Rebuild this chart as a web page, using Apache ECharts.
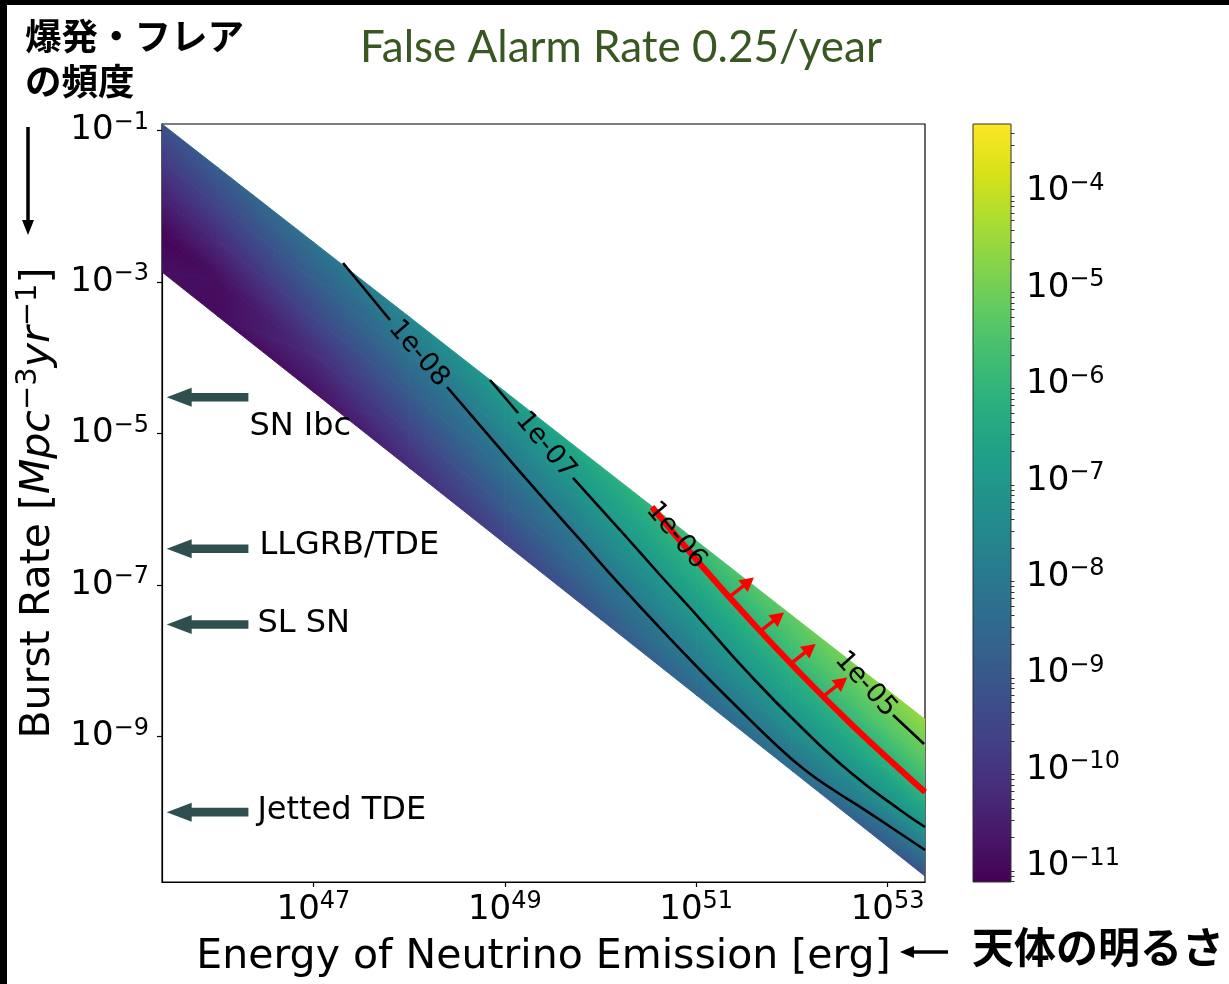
<!DOCTYPE html>
<html>
<head>
<meta charset="utf-8">
<script src="https://cdn.jsdelivr.net/npm/echarts@6.0.0/dist/echarts.min.js"></script>
<style>
  html, body { margin: 0; padding: 0; background: #fff; }
  #chart { width: 1229px; height: 984px; }
</style>
</head>
<body>
<div id="chart"></div>
<script>
// ---------------------------------------------------------------
// Data (energies and rates are stored as log10 values)
// ---------------------------------------------------------------

// axis extents: log10 E [erg] and log10 burst rate [Mpc^-3 yr^-1]
const xExtent = [45.417, 53.391];
const yExtent = [-10.922, -0.915];
const xTickExp = [47, 49, 51, 53];
const yTickExp = [-9, -7, -5, -3, -1];

// colour scale limits (linear values)
const colorLimits = [6.9e-12, 5.0e-4];
const colorTickExp = [-11, -10, -9, -8, -7, -6, -5, -4];

// mesh columns along the energy axis (log10 E)
const meshLogE = [45.417, 46, 47, 48, 49, 50, 51, 52, 53, 53.391];
// lower / upper edge of the allowed band at each column (log10 rate)
const bandLowLogR  = [-2.87, -3.453, -4.453, -5.453, -6.453, -7.453, -8.453, -9.453, -10.453, -10.845];
const bandHighLogR = [-0.915, -1.49, -2.475, -3.46, -4.446, -5.432, -6.417, -7.403, -8.388, -8.774];
// fractional position across the band (0 = lower edge, 1 = upper edge)
const bandFrac = [0, 0.25, 0.5, 0.75, 1];
// log10 of the mapped quantity at each mesh node, one row per column
const heatLog = [
  [-10.85, -11.10, -10.50, -9.85, -9.24],
  [-10.95, -10.90, -10.25, -9.55, -8.85],
  [-10.85, -10.20, -9.52, -8.86, -8.20],
  [-10.25, -9.58, -8.90, -8.23, -7.55],
  [-9.61, -8.93, -8.25, -7.58, -6.90],
  [-9.04, -8.34, -7.64, -6.94, -6.30],
  [-8.60, -7.81, -7.07, -6.38, -5.75],
  [-8.40, -7.42, -6.60, -5.83, -5.23],
  [-9.00, -7.42, -6.30, -5.43, -4.75],
  [-9.20, -7.43, -6.18, -5.31, -4.57]
];

// contour lines [log10 E, log10 rate]; each level is split where its label sits
const contourNames = ['1e-08', '1e-07', '1e-06', '1e-05'];
const contour8Head = [[47.309, -2.750], [47.800, -3.503]];
const contour8Tail = [[48.396, -4.387], [48.897, -5.126], [49.399, -5.853], [49.806, -6.433],
                      [50.204, -7.001], [50.622, -7.569], [51.040, -8.123], [51.458, -8.651],
                      [51.824, -9.100], [52.137, -9.444], [52.451, -9.721], [52.764, -9.972],
                      [53.078, -10.236], [53.391, -10.500]];
const contour7Head = [[48.845, -4.295], [49.138, -4.730]];
const contour7Tail = [[49.712, -5.588], [50.204, -6.275], [50.622, -6.869], [51.040, -7.450],
                      [51.562, -8.189], [52.085, -8.863], [52.607, -9.470], [53.130, -9.972],
                      [53.391, -10.196]];
const contour6Head = [[50.538, -5.971]];
const contour6Tail = [[51.040, -6.724], [51.562, -7.463], [52.085, -8.163], [52.607, -8.823],
                      [53.130, -9.437], [53.391, -9.734]];
const contour5Head = [[52.482, -7.912]];
const contour5Tail = [[53.057, -8.717], [53.381, -9.100]];

// detection threshold curve (drawn in red) and the points its arrows start from
const thresholdCurve = [[50.538, -5.971], [51.040, -6.724], [51.562, -7.463], [52.085, -8.163],
                        [52.607, -8.823], [53.130, -9.437], [53.391, -9.734]];
const thresholdArrowBase = [[51.353, -7.152], [51.667, -7.614], [51.998, -8.030], [52.328, -8.472]];

// source classes and their burst rates [Mpc^-3 yr^-1]
const sourceNames = ['SN Ibc', 'LLGRB/TDE', 'SL SN', 'Jetted TDE'];
const sourceRate = [3e-5, 3e-7, 3e-8, 1e-10];
const sourceArrowTailLogE = 46.32;
const sourceArrowTipLogE = 45.466;

// ---------------------------------------------------------------
// Colour map (viridis)
// ---------------------------------------------------------------
const viridis = ['#440154', '#48186a', '#472d7b', '#424086', '#3b528b', '#33638d', '#2c728e',
  '#26828e', '#21918c', '#1fa088', '#28ae80', '#3fbc73', '#5ec962', '#84d44b', '#addc30',
  '#d8e219', '#fde725'];
const viridisRGB = viridis.map(h => [parseInt(h.slice(1, 3), 16), parseInt(h.slice(3, 5), 16), parseInt(h.slice(5, 7), 16)]);
const cMin = Math.log10(colorLimits[0]);
const cMax = Math.log10(colorLimits[1]);

function colorOf(logV) {
  let t = (logV - cMin) / (cMax - cMin);
  t = Math.max(0, Math.min(1, t));
  const x = t * (viridisRGB.length - 1);
  const i = Math.min(Math.floor(x), viridisRGB.length - 2);
  const f = x - i;
  const a = viridisRGB[i], b = viridisRGB[i + 1];
  return 'rgb(' + [0, 1, 2].map(k => Math.round(a[k] + (b[k] - a[k]) * f)).join(',') + ')';
}

// ---------------------------------------------------------------
// Band mesh: nodes and triangles
// ---------------------------------------------------------------
const nodes = meshLogE.map((e, i) => bandFrac.map((w, j) => [
  e,
  bandLowLogR[i] + w * (bandHighLogR[i] - bandLowLogR[i]),
  heatLog[i][j]
]));
const triangles = [];
for (let i = 0; i < meshLogE.length - 1; i++) {
  for (let j = 0; j < bandFrac.length - 1; j++) {
    const a = nodes[i][j], b = nodes[i + 1][j], c = nodes[i + 1][j + 1], d = nodes[i][j + 1];
    triangles.push([a, b, c]);
    triangles.push([a, c, d]);
  }
}
const triangleCenters = triangles.map(t => [(t[0][0] + t[1][0] + t[2][0]) / 3, (t[0][1] + t[1][1] + t[2][1]) / 3]);

// each triangle is shaded linearly between its corner values
function renderHeat(params, api) {
  const tri = triangles[params.dataIndex];
  const p = tri.map(n => api.coord([n[0], n[1]]));
  const v = tri.map(n => n[2]);
  const d1x = p[1][0] - p[0][0], d1y = p[1][1] - p[0][1];
  const d2x = p[2][0] - p[0][0], d2y = p[2][1] - p[0][1];
  const dv1 = v[1] - v[0], dv2 = v[2] - v[0];
  const det = d1x * d2y - d1y * d2x;
  const gx = (dv1 * d2y - dv2 * d1y) / det;
  const gy = (d1x * dv2 - d2x * dv1) / det;
  const g2 = gx * gx + gy * gy;
  const vmin = Math.min(v[0], v[1], v[2]);
  const vmax = Math.max(v[0], v[1], v[2]);
  let fill;
  if (!isFinite(g2) || g2 < 1e-14 || vmax - vmin < 1e-6) {
    fill = colorOf((vmin + vmax) / 2);
  } else {
    const k = v.indexOf(vmin);
    const s = (vmax - vmin) / g2;
    const x0 = p[k][0], y0 = p[k][1];
    const stops = [];
    for (let m = 0; m <= 10; m++) {
      stops.push({ offset: m / 10, color: colorOf(vmin + (m / 10) * (vmax - vmin)) });
    }
    fill = new echarts.graphic.LinearGradient(x0, y0, x0 + gx * s, y0 + gy * s, stops, true);
  }
  return {
    type: 'polygon',
    shape: { points: p },
    style: { fill: fill, stroke: fill, lineWidth: 0.9, lineJoin: 'round' },
    silent: true
  };
}

// ---------------------------------------------------------------
// Helpers for text and marks
// ---------------------------------------------------------------
const FONT = 'DejaVu Sans';
const minus = n => (n < 0 ? '\u2212' + Math.abs(n) : String(n));
const powerLabel = v => '{b|10}{s|' + minus(Math.round(v)) + '}';
const powerRich = {
  b: { fontFamily: FONT, fontSize: 34, lineHeight: 40, color: '#000' },
  s: { fontFamily: FONT, fontSize: 24, lineHeight: 24, verticalAlign: 'top', color: '#000' }
};

const minorColorTicks = [];
for (let n = -12; n <= -4; n++) {
  for (let k = 2; k <= 9; k++) {
    const v = n + Math.log10(k);
    if (v > cMin && v < cMax) minorColorTicks.push(v);
  }
}

const contourSets = [
  [contour8Head, contour8Tail],
  [contour7Head, contour7Tail],
  [contour6Head, contour6Tail],
  [contour5Head, contour5Tail]
];

function renderContourLabel(params, api) {
  const set = contourSets[params.dataIndex];
  const a = api.coord(set[0][set[0].length - 1]);
  const b = api.coord(set[1][0]);
  const ang = Math.atan2(b[1] - a[1], b[0] - a[0]);
  return {
    type: 'text',
    x: (a[0] + b[0]) / 2,
    y: (a[1] + b[1]) / 2,
    rotation: -ang,
    style: {
      text: contourNames[params.dataIndex], fontFamily: FONT, fontSize: 27,
      fill: '#000', align: 'center', verticalAlign: 'middle'
    },
    silent: true
  };
}

function renderThresholdArrow(params, api) {
  const base = api.coord(thresholdArrowBase[params.dataIndex]);
  const vec = [24, -19];
  const len = Math.hypot(vec[0], vec[1]);
  const u = [vec[0] / len, vec[1] / len];
  const n = [-u[1], u[0]];
  const tip = [base[0] + vec[0], base[1] + vec[1]];
  const hb = [tip[0] - 14 * u[0], tip[1] - 14 * u[1]];
  return {
    type: 'group',
    silent: true,
    children: [
      { type: 'line', shape: { x1: base[0], y1: base[1], x2: hb[0] + u[0], y2: hb[1] + u[1] },
        style: { stroke: '#ff0000', lineWidth: 3.5 } },
      { type: 'polygon',
        shape: { points: [tip, [hb[0] + 7.5 * n[0], hb[1] + 7.5 * n[1]], [hb[0] - 7.5 * n[0], hb[1] - 7.5 * n[1]]] },
        style: { fill: '#ff0000' } }
    ]
  };
}

const sourceLabelShift = [[1, 29], [11, -3], [9, -1], [9, -1]];
function renderSource(params, api) {
  const i = params.dataIndex;
  const r = Math.log10(sourceRate[i]);
  const tail = api.coord([sourceArrowTailLogE, r]);
  const tip = api.coord([sourceArrowTipLogE, r]);
  const y = tip[1];
  const hb = tip[0] + 25;
  const hh = 9.5, sh = 4.3;
  return {
    type: 'group',
    silent: true,
    children: [
      { type: 'polygon',
        shape: { points: [[tip[0], y], [hb, y - hh], [hb, y - sh], [tail[0], y - sh],
                          [tail[0], y + sh], [hb, y + sh], [hb, y + hh]] },
        style: { fill: '#2f4f4f' } },
      { type: 'text', x: tail[0] + sourceLabelShift[i][0], y: y + sourceLabelShift[i][1],
        style: { text: sourceNames[i], fontFamily: FONT, fontSize: 32, fill: '#000',
                 align: 'left', verticalAlign: 'middle' } }
    ]
  };
}

function renderColorbar(params, api) {
  const p0 = api.coord([0, cMin]);
  const p1 = api.coord([1, cMax]);
  const stops = viridis.map((c, i) => ({ offset: i / (viridis.length - 1), color: c }));
  return {
    type: 'rect',
    shape: { x: p0[0], y: p1[1], width: p1[0] - p0[0], height: p0[1] - p1[1] },
    style: {
      fill: new echarts.graphic.LinearGradient(0, p0[1], 0, p1[1], stops, true),
      stroke: '#333', lineWidth: 1
    },
    silent: true
  };
}

// ---------------------------------------------------------------
// Series
// ---------------------------------------------------------------
const series = [
  {
    type: 'custom', xAxisIndex: 0, yAxisIndex: 0, renderItem: renderHeat,
    data: triangleCenters, encode: { x: 0, y: 1 }, clip: true, z: 1, silent: true
  }
];
contourSets.forEach(set => {
  set.forEach(seg => {
    if (seg.length < 2) return;
    series.push({
      type: 'line', xAxisIndex: 0, yAxisIndex: 0, data: seg, symbol: 'none',
      smooth: 0.5, lineStyle: { color: '#000', width: 2.6 }, z: 3, silent: true, clip: true
    });
  });
});
series.push({
  type: 'line', xAxisIndex: 0, yAxisIndex: 0, data: thresholdCurve, symbol: 'none',
  smooth: 0.5, lineStyle: { color: '#ff0000', width: 6 }, z: 4, silent: true, clip: true
});
series.push({
  type: 'custom', xAxisIndex: 0, yAxisIndex: 0, renderItem: renderThresholdArrow,
  data: thresholdArrowBase, encode: { x: 0, y: 1 }, clip: false, z: 5, silent: true
});
series.push({
  type: 'custom', xAxisIndex: 0, yAxisIndex: 0, renderItem: renderContourLabel,
  data: contourSets.map(s => s[1][0]), encode: { x: 0, y: 1 }, clip: false, z: 6, silent: true
});
series.push({
  type: 'custom', xAxisIndex: 0, yAxisIndex: 0, renderItem: renderSource,
  data: sourceRate.map(v => [sourceArrowTailLogE, Math.log10(v)]), encode: { x: 0, y: 1 },
  clip: false, z: 7, silent: true
});
series.push({
  type: 'custom', xAxisIndex: 1, yAxisIndex: 1, renderItem: renderColorbar,
  data: [[0, cMin]], encode: { x: 0, y: 1 }, clip: false, z: 2, silent: true
});

// ---------------------------------------------------------------
// Chart
// ---------------------------------------------------------------
const chart = echarts.init(document.getElementById('chart'), null, { renderer: 'canvas' });
chart.setOption({
  animation: false,
  backgroundColor: '#fff',
  grid: [
    { left: 162, top: 124, width: 763, height: 758, show: true, borderColor: '#000',
      borderWidth: 1.2, backgroundColor: '#fff', containLabel: false, outerBoundsMode: 'none' },
    { left: 973, top: 124, width: 38, height: 758, containLabel: false, outerBoundsMode: 'none' }
  ],
  xAxis: [
    {
      type: 'value', gridIndex: 0, min: xExtent[0], max: xExtent[1],
      axisLine: { show: true, onZero: false, lineStyle: { color: '#000', width: 1.2 } },
      axisTick: { show: true, length: 5, customValues: xTickExp, lineStyle: { color: '#000', width: 1.2 } },
      axisLabel: { customValues: xTickExp, margin: 8, formatter: powerLabel, rich: powerRich },
      splitLine: { show: false },
      name: 'Energy of Neutrino Emission [erg]', nameLocation: 'middle', nameGap: 55,
      nameMoveOverlap: false,
      nameTextStyle: { fontFamily: FONT, fontSize: 41, color: '#000' }
    },
    { type: 'value', gridIndex: 1, min: 0, max: 1, show: false }
  ],
  yAxis: [
    {
      type: 'value', gridIndex: 0, min: yExtent[0], max: yExtent[1],
      axisLine: { show: true, onZero: false, lineStyle: { color: '#000', width: 1.2 } },
      axisTick: { show: true, length: 5, customValues: yTickExp, lineStyle: { color: '#000', width: 1.2 } },
      axisLabel: { customValues: yTickExp, margin: 13, formatter: powerLabel, rich: powerRich },
      splitLine: { show: false },
      name: '{n|Burst Rate [}{i|Mpc}{s|\u22123}{i|yr}{s|\u22121}{n|]}',
      nameLocation: 'middle', nameRotate: 90, nameGap: 100, nameMoveOverlap: false,
      nameTextStyle: {
        rich: {
          n: { fontFamily: FONT, fontSize: 41, lineHeight: 48, color: '#000' },
          i: { fontFamily: FONT, fontSize: 41, lineHeight: 48, fontStyle: 'italic', color: '#000' },
          s: { fontFamily: FONT, fontSize: 29, lineHeight: 30, verticalAlign: 'top', color: '#000' }
        }
      }
    },
    {
      type: 'value', gridIndex: 1, position: 'right', min: cMin, max: cMax,
      axisLine: { show: false },
      axisTick: { show: true, length: 7, customValues: colorTickExp, lineStyle: { color: '#000', width: 1 } },
      axisLabel: { customValues: colorTickExp, margin: 15, formatter: powerLabel, rich: powerRich },
      splitLine: { show: false }
    },
    {
      type: 'value', gridIndex: 1, position: 'right', min: cMin, max: cMax,
      axisLine: { show: false },
      axisTick: { show: true, length: 3.5, customValues: minorColorTicks, lineStyle: { color: '#000', width: 0.8 } },
      axisLabel: { show: false },
      splitLine: { show: false }
    }
  ],
  graphic: [
    { type: 'rect', shape: { x: 0, y: 0, width: 1229, height: 5 }, style: { fill: '#000' }, silent: true },
    { type: 'rect', shape: { x: 0, y: 0, width: 7, height: 984 }, style: { fill: '#000' }, silent: true },
    { type: 'text', x: 621, y: 48, silent: true,
      style: { text: 'False Alarm Rate 0.25/year', fontFamily: 'Lato', fontSize: 44, fill: '#385723',
               align: 'center', verticalAlign: 'middle' } },
    { type: 'text', x: 25, y: 36, silent: true,
      style: { text: '爆発・フレア', fontFamily: 'Noto Sans CJK JP', fontWeight: 'bold', fontSize: 36.5,
               fill: '#000', align: 'left', verticalAlign: 'middle' } },
    { type: 'text', x: 25, y: 81, silent: true,
      style: { text: 'の頻度', fontFamily: 'Noto Sans CJK JP', fontWeight: 'bold', fontSize: 36.5,
               fill: '#000', align: 'left', verticalAlign: 'middle' } },
    { type: 'line', shape: { x1: 28, y1: 127, x2: 28, y2: 222 }, style: { stroke: '#000', lineWidth: 3.5 }, silent: true },
    { type: 'polygon', shape: { points: [[22, 220], [34, 220], [28, 235]] }, style: { fill: '#000' }, silent: true },
    { type: 'line', shape: { x1: 948, y1: 952, x2: 912, y2: 952 }, style: { stroke: '#000', lineWidth: 3.5 }, silent: true },
    { type: 'polygon', shape: { points: [[914, 946], [914, 958], [900, 952]] }, style: { fill: '#000' }, silent: true },
    { type: 'text', x: 972, y: 947, silent: true,
      style: { text: '天体の明るさ', fontFamily: 'Noto Sans CJK JP', fontWeight: 'bold', fontSize: 42,
               fill: '#000', align: 'left', verticalAlign: 'middle' } }
  ],
  series: series
});
</script>
</body>
</html>
